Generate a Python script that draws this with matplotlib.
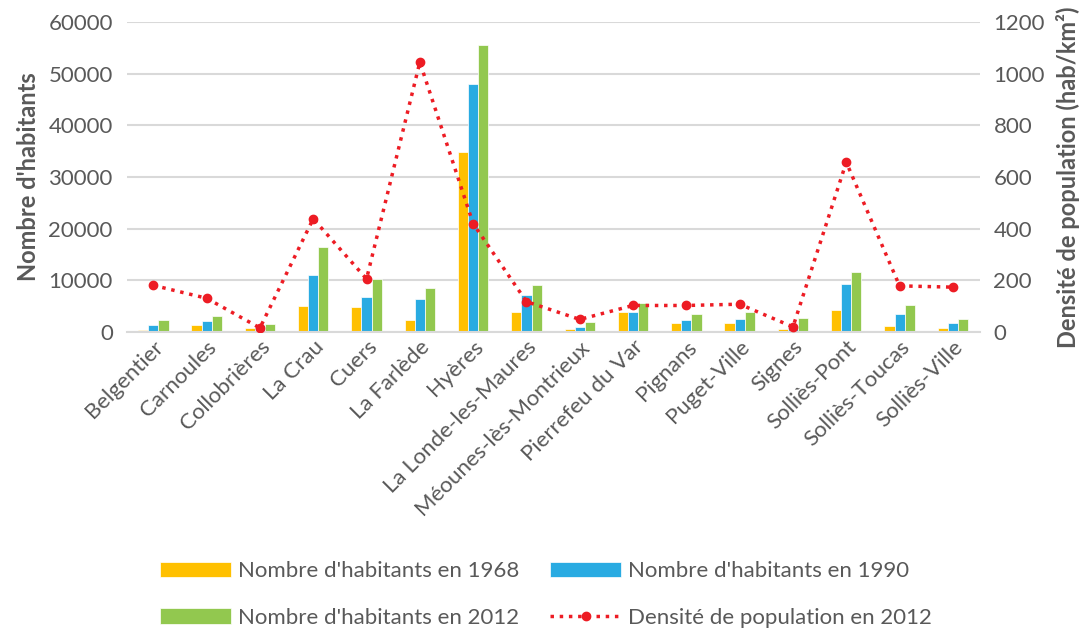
import numpy as np
import matplotlib.pyplot as plt

plt.rcParams['font.family'] = ['Lato', 'DejaVu Sans']

communes = ['Belgentier', 'Carnoules', 'Collobrières', 'La Crau', 'Cuers', 'La Farlède',
            'Hyères', 'La Londe-les-Maures', 'Méounes-lès-Montrieux', 'Pierrefeu du Var',
            'Pignans', 'Puget-Ville', 'Signes', 'Solliès-Pont', 'Solliès-Toucas', 'Solliès-Ville']
hab_1968 = [300, 1300, 780, 5040, 4780, 2260, 34900, 3870, 450, 3870, 1680, 1680, 450, 4130, 1160, 650]
hab_1990 = [1300, 2000, 1300, 11000, 6800, 6270, 48000, 7160, 900, 3870, 2190, 2390, 1100, 9350, 3420, 1680]
hab_2012 = [2260, 3040, 1600, 16500, 10200, 8530, 55500, 9100, 1870, 5600, 3420, 3870, 2650, 11550, 5160, 2390]
densite_2012 = [180, 130, 15, 438, 205, 1045, 419, 117, 48, 102, 102, 107, 19, 657, 178, 173]

gris = '#595959'
fig = plt.figure(figsize=(10.92, 6.32), dpi=100)
ax = fig.add_axes([0.116, 0.475, 0.781, 0.49])
ax2 = ax.twinx()

x = np.arange(len(communes))
w = 0.19
b1 = ax.bar(x - w, hab_1968, w, color='#ffc000', edgecolor='white', linewidth=0.5, zorder=2)
b2 = ax.bar(x, hab_1990, w, color='#29abe2', edgecolor='white', linewidth=0.5, zorder=2)
b3 = ax.bar(x + w, hab_2012, w, color='#92c84f', edgecolor='white', linewidth=0.5, zorder=2)
ln, = ax2.plot(x, densite_2012, color='#ed1c24', linestyle=':', linewidth=2.5, marker='o',
               markersize=6)

ax.set_xlim(-0.5, len(communes) - 0.5)
ax.set_ylim(0, 60000)
ax2.set_ylim(0, 1200)
ax.set_yticks(np.arange(0, 60001, 10000))
ax2.set_yticks(np.arange(0, 1201, 200))
ax.yaxis.grid(True, color='#d9d9d9', linewidth=1.5, zorder=0)
ax.set_axisbelow(True)

for a in (ax, ax2):
    for s in a.spines.values():
        s.set_visible(False)
    a.tick_params(length=0, labelsize=16, colors=gris)
ax.spines['bottom'].set_visible(True)
ax.spines['bottom'].set_color('#d9d9d9')
ax.spines['bottom'].set_linewidth(1.5)

ax.set_xticks(x)
ax.set_xticklabels(communes, rotation=45, ha='right', rotation_mode='anchor', fontsize=16, color=gris)
ax.tick_params(axis='y', pad=10)
ax2.tick_params(axis='y', pad=10)

ax.set_ylabel("Nombre d'habitants", fontsize=17, fontweight='bold', color=gris, labelpad=6)
ax2.set_ylabel('Densité de population (hab/km²)', fontsize=17, fontweight='bold', color=gris, labelpad=8)

# ordre pour que la légende se remplisse ligne par ligne
handles = [b1, b3, b2, ln]
labels = ["Nombre d'habitants en 1968", "Nombre d'habitants en 2012",
          "Nombre d'habitants en 1990", 'Densité de population en 2012']
fig.legend(handles, labels, ncol=2, loc='lower center', bbox_to_anchor=(0.5, -0.025),
           frameon=False, fontsize=16, handlelength=3.2, handletextpad=0.3,
           columnspacing=1.4, labelspacing=1.2, labelcolor=gris)

fig.savefig('out.png', dpi=100)
